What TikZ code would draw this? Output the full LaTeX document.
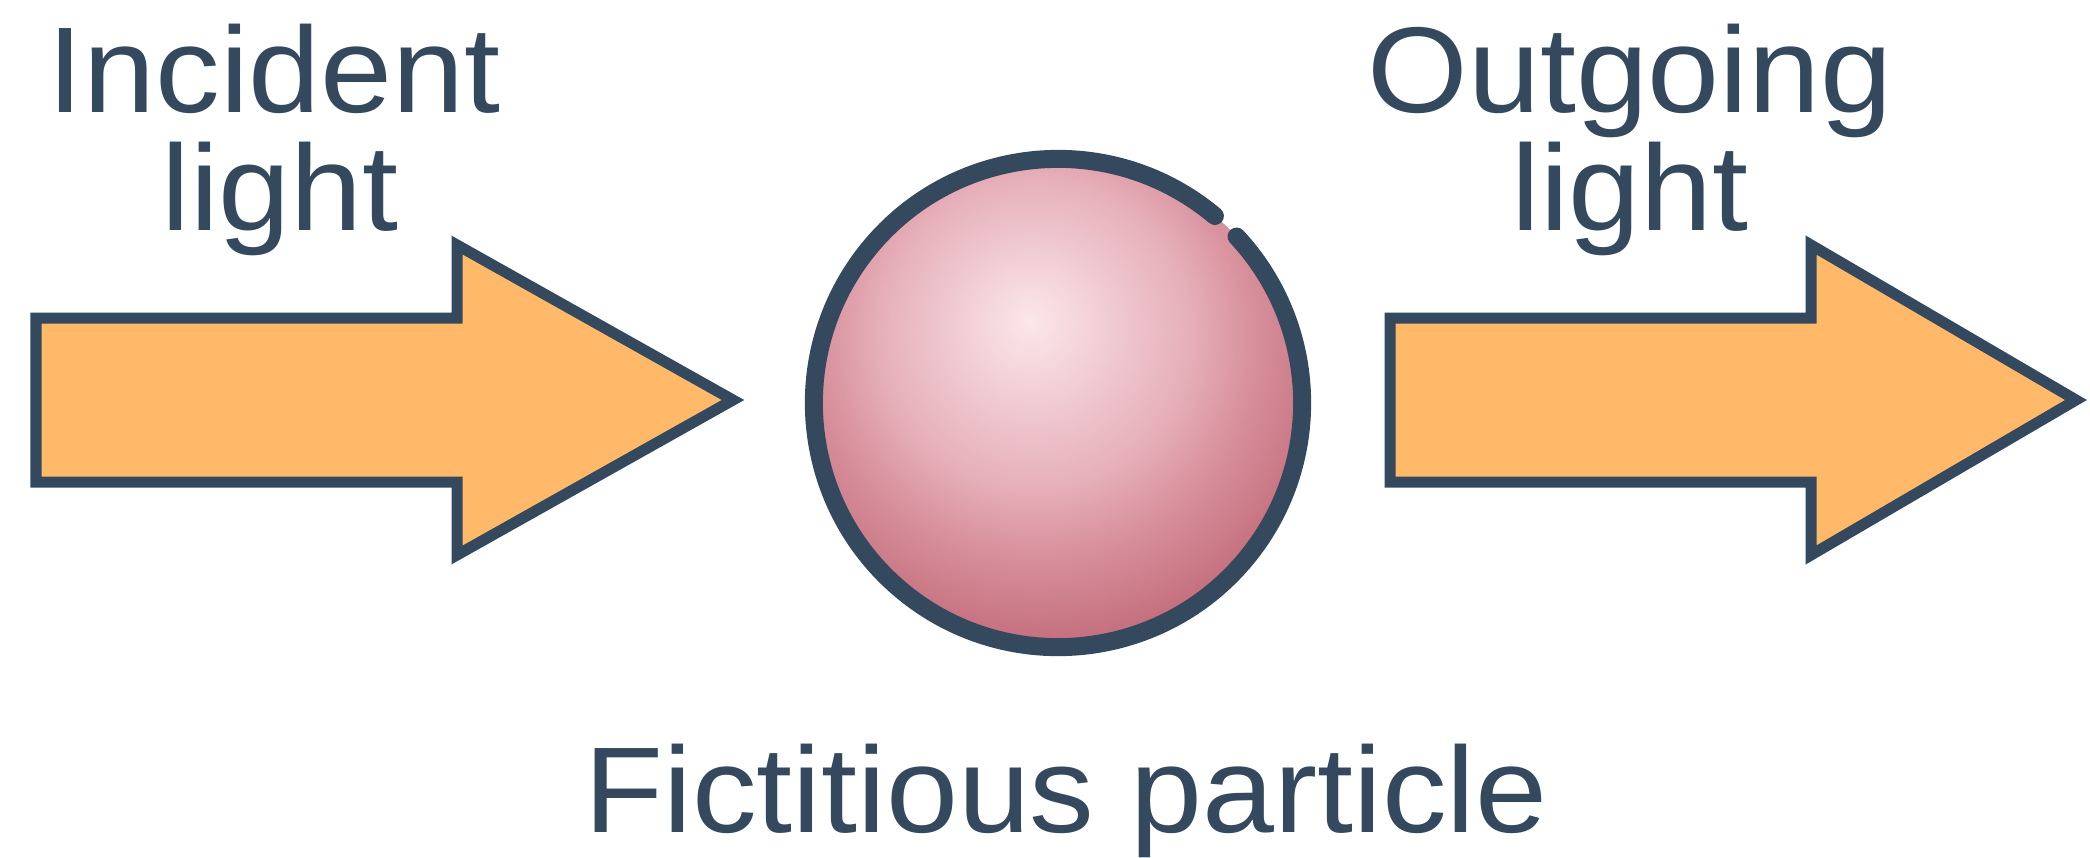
\documentclass[tikz,border=0pt]{standalone}
\usepackage{fontspec}
\setmainfont[FakeStretch=1.06]{Liberation Sans}
\definecolor{ink}{HTML}{34495E}
\definecolor{arrowfill}{HTML}{FFB968}
\pgfdeclareradialshading{pinkball}{\pgfpoint{-2.9bp}{8.5bp}}{rgb(0bp)=(0.984,0.906,0.922); rgb(16bp)=(0.902,0.686,0.725); rgb(22bp)=(0.847,0.569,0.616); rgb(30bp)=(0.776,0.443,0.498); rgb(100bp)=(0.776,0.440,0.494)}
\tikzset{
  bigarrow/.style={draw=ink, fill=arrowfill, line width=0.11cm, line join=miter},
  label/.style={text=ink, font=\fontsize{34.7}{33.6}\selectfont, anchor=base, inner sep=0pt},
  ball/.style={circle, shading=pinkball, minimum size=4.88cm, inner sep=0pt},
  ring/.style={draw=ink, line width=0.18cm, line cap=round}
}
\begin{document}
\begin{tikzpicture}[x=0.01cm,y=-0.01cm]
\useasboundingbox (0,0) rectangle (2090,857);
% left arrow
\draw[bigarrow] (36,318) -- (457,318) -- (457,245) -- (733,400) -- (457,555) -- (457,482) -- (36,482) -- cycle;
% right arrow
\draw[bigarrow] (1390,318) -- (1811,318) -- (1811,245) -- (2076,400) -- (1811,555) -- (1811,482) -- (1390,482) -- cycle;
% particle
\node[ball] (particle) at (1058,403) {};
\begin{scope}[shift={(particle.center)}, x=1cm, y=1cm]
  \draw[ring] (50:2.44) arc[start angle=50, end angle=403, radius=2.44];
\end{scope}
% labels
\node[label] (inc1) at (274,112) {Incident};
\node[label] (inc2) at (280,230) {light};
\node[label] (out1) at (1630,112) {Outgoing};
\node[label] (out2) at (1630,230) {light};
\node[label] (fict) at (1066,832) {Fictitious particle};
\end{tikzpicture}
\end{document}
